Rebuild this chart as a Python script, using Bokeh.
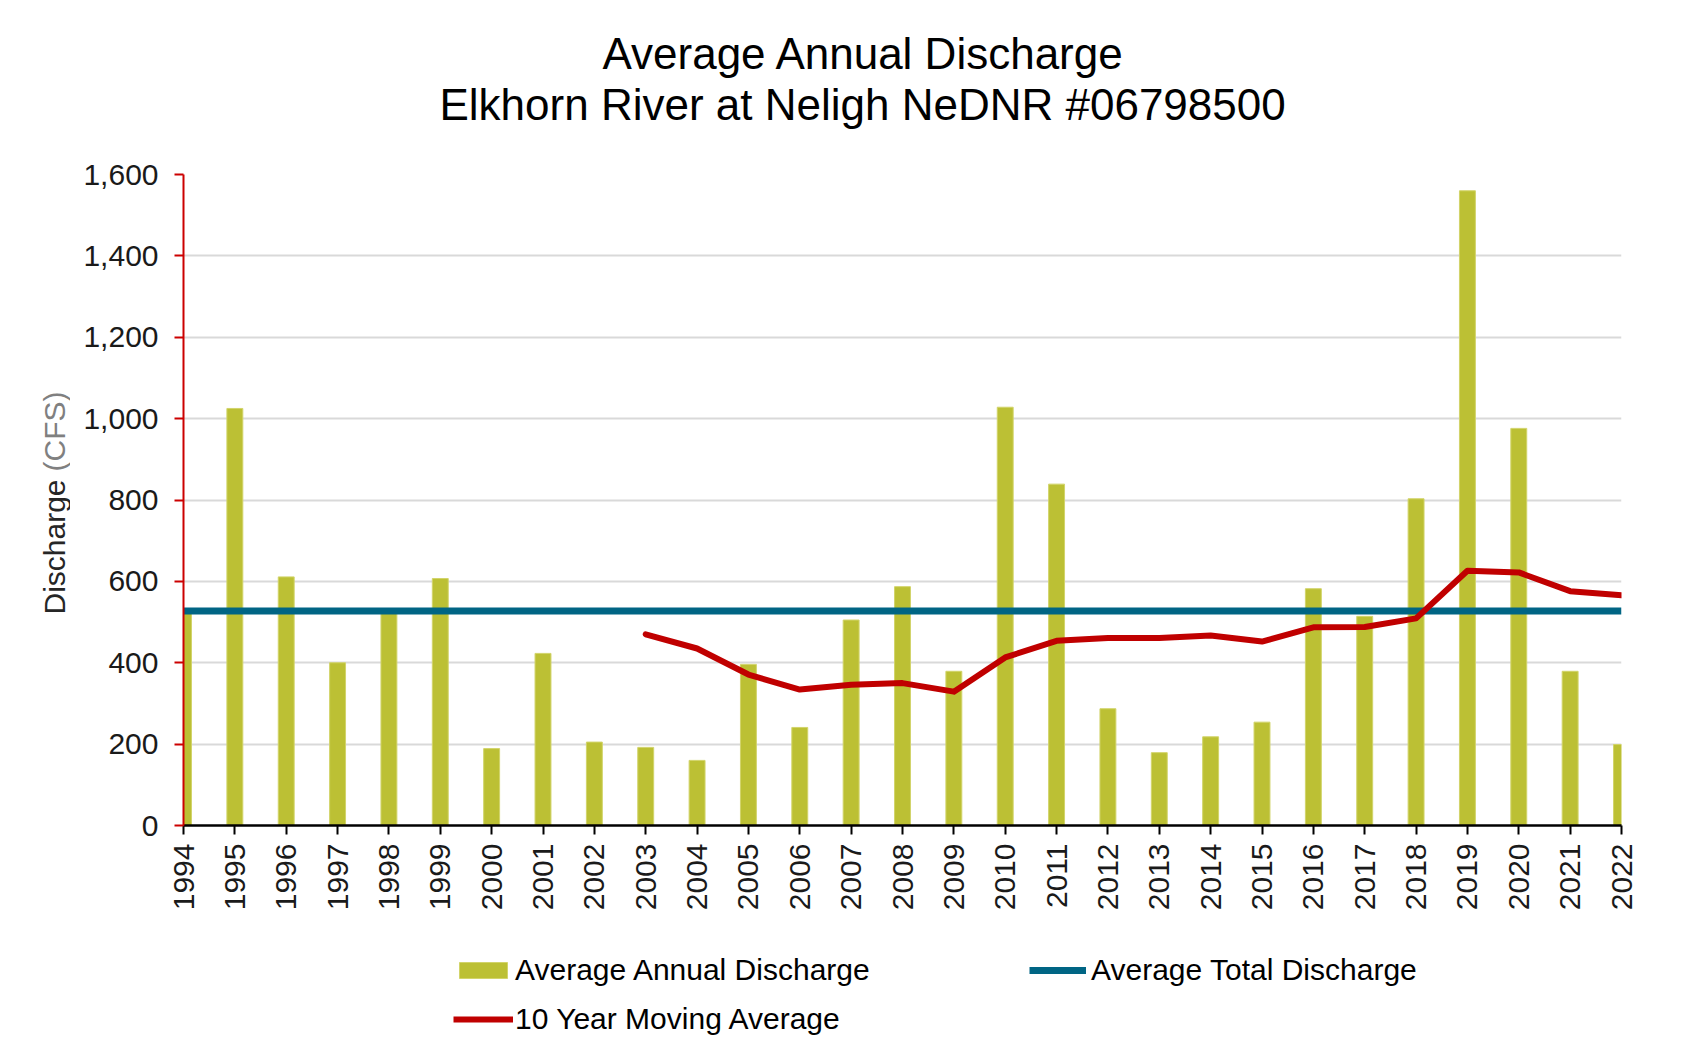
import numpy as np
from bokeh.plotting import figure
from bokeh.layouts import column, row
from bokeh.models import Legend, LegendItem, Title, Label, NumeralTickFormatter, FixedTicker, Range1d
from bokeh.embed import file_html
from bokeh.resources import INLINE

# ---------------- data ----------------
years = list(range(1994, 2023))
annual_discharge = [522, 1025, 611, 400, 528, 607, 189, 423, 205, 192,
                    160, 396, 241, 505, 587, 379, 1028, 839, 287, 179,
                    218, 254, 582, 514, 803, 1560, 976, 379, 199]
ma_years = list(range(2003, 2023))
moving_avg = [470, 435, 371, 334, 346, 350, 329, 413, 454, 461,
              461, 467, 452, 487, 488, 509, 626, 622, 576, 566]
avg_total = 527
y_ticks = [0, 200, 400, 600, 800, 1000, 1200, 1400, 1600]

title_lines = ["Average Annual Discharge", "Elkhorn River at Neligh NeDNR #06798500"]
y_label_parts = ["Discharge", "(CFS)"]
legend_labels = ["Average Annual Discharge", "Average Total Discharge", "10 Year Moving Average"]

# ---------------- styles ----------------
FONT = "Liberation Sans"
BAR_FILL, BAR_EDGE = "#BCC034", "#D2D46A"
AVG_COLOR, MA_COLOR = "#006584", "#C00000"

# ---------------- layout (page pixels) ----------------
PAGE_W, PAGE_H = 1700, 1040
LBL_W = 70                       # strip holding the y-axis label
MAIN_H = 915                     # main chart height
LEG_H = PAGE_H - MAIN_H          # legend strip height
FRAME_L, FRAME_T, FRAME_R, FRAME_B = 183, 174, 1621, 825

# ---------- y label strip (its frame is aligned with the main frame) ----------
ylab = figure(width=LBL_W, height=MAIN_H, output_backend="svg", toolbar_location=None,
              x_range=Range1d(0, LBL_W), y_range=Range1d(FRAME_B, FRAME_T),
              x_axis_type=None, y_axis_type=None,
              min_border_left=0, min_border_right=0,
              min_border_top=FRAME_T, min_border_bottom=MAIN_H - FRAME_B)
ylab.outline_line_color = None
ylab.grid.visible = False
ylab.add_layout(Label(x=54, y=614, text=y_label_parts[0], angle=np.pi / 2,
                      text_align="left", text_baseline="middle",
                      text_font=FONT, text_font_size="30px", text_color="#262626"))
ylab.add_layout(Label(x=54, y=471, text=y_label_parts[1], angle=np.pi / 2,
                      text_align="left", text_baseline="middle",
                      text_font=FONT, text_font_size="30px", text_color="#808080"))

# ---------- main chart ----------
W = PAGE_W - LBL_W
p = figure(width=W, height=MAIN_H, output_backend="svg", toolbar_location=None,
           x_range=Range1d(years[0], years[-1]), y_range=Range1d(y_ticks[0], y_ticks[-1]),
           min_border_left=FRAME_L - LBL_W, min_border_right=PAGE_W - FRAME_R,
           min_border_top=FRAME_T, min_border_bottom=MAIN_H - FRAME_B)
p.title.visible = False
p.outline_line_color = None

bars = p.vbar(x=years, top=annual_discharge, bottom=0, width=0.31,
              fill_color=BAR_FILL, line_color=BAR_EDGE, line_width=1)
avg_line = p.line([years[0], years[-1]], [avg_total, avg_total],
                  line_color=AVG_COLOR, line_width=7)
ma_line = p.line(ma_years, moving_avg, line_color=MA_COLOR, line_width=6,
                 line_join="round", line_cap="round")

p.xgrid.visible = False
p.ygrid.grid_line_color = "#D9D9D9"
p.ygrid.grid_line_width = 2
p.ygrid.ticker = FixedTicker(ticks=y_ticks)

p.yaxis.ticker = FixedTicker(ticks=y_ticks)
p.yaxis.formatter = NumeralTickFormatter(format="0,0")
p.yaxis.axis_line_color = "#CC0000"
p.yaxis.axis_line_width = 2
p.yaxis.major_tick_line_color = "#CC0000"
p.yaxis.major_tick_line_width = 2
p.yaxis.major_tick_out = 9
p.yaxis.major_tick_in = 0
p.yaxis.minor_tick_line_color = None
p.yaxis.major_label_standoff = 16
p.yaxis.major_label_text_font = FONT
p.yaxis.major_label_text_font_size = "30px"
p.yaxis.major_label_text_color = "#1a1a1a"

p.xaxis.ticker = FixedTicker(ticks=years)
p.xaxis.axis_line_color = "#000000"
p.xaxis.axis_line_width = 2.5
p.xaxis.major_tick_line_color = "#000000"
p.xaxis.major_tick_line_width = 2
p.xaxis.major_tick_out = 9
p.xaxis.major_tick_in = 0
p.xaxis.minor_tick_line_color = None
p.xaxis.major_label_orientation = np.pi / 2
p.xaxis.major_label_standoff = 9
p.xaxis.major_label_text_font = FONT
p.xaxis.major_label_text_font_size = "30px"
p.xaxis.major_label_text_color = "#1a1a1a"

# title: spacer nearest the frame, then line 2, then line 1
spacer = Title(text=" ", standoff=22, text_font=FONT, text_font_size="20px")
t2 = Title(text=title_lines[1], align="left", offset=256, standoff=0,
           text_font=FONT, text_font_size="44px", text_font_style="normal",
           text_color="#000000")
t1 = Title(text=title_lines[0], align="left", offset=419, standoff=0,
           text_font=FONT, text_font_size="44px", text_font_style="normal",
           text_color="#000000")
p.add_layout(spacer, "above")
p.add_layout(t2, "above")
p.add_layout(t1, "above")

# ---------- legend strip ----------
# same series drawn again, but outside the strip's visible range, so only the legend shows
lf = figure(width=PAGE_W, height=LEG_H, output_backend="svg", toolbar_location=None,
            x_range=Range1d(0, 1), y_range=Range1d(0, 1),
            x_axis_type=None, y_axis_type=None,
            min_border_left=0, min_border_right=0, min_border_top=0, min_border_bottom=0)
lf.outline_line_color = None
lf.grid.visible = False
lg_bars = lf.vbar(x=years, top=annual_discharge, bottom=0, width=0.31,
                  fill_color=BAR_FILL, line_color=BAR_EDGE, line_width=1)
lg_avg = lf.line([years[0], years[-1]], [avg_total, avg_total], line_color=AVG_COLOR, line_width=7)
lg_ma = lf.line(ma_years, moving_avg, line_color=MA_COLOR, line_width=6)

common = dict(border_line_color=None, background_fill_alpha=0, padding=0, margin=0,
              spacing=0, label_height=49, glyph_height=20,
              label_text_font=FONT, label_text_font_size="30px", label_text_color="#000000")
row1_top = 970 - MAIN_H - 24.5          # top of first legend row inside strip
legA = Legend(items=[LegendItem(label=legend_labels[0], renderers=[lg_bars]),
                     LegendItem(label=legend_labels[2], renderers=[lg_ma])],
              orientation="vertical", glyph_width=60, label_standoff=2,
              location=(453, LEG_H - row1_top - 98), **common)
legB = Legend(items=[LegendItem(label=legend_labels[1], renderers=[lg_avg])],
              orientation="vertical", glyph_width=57, label_standoff=5,
              location=(1029, LEG_H - row1_top - 49), **common)
lf.add_layout(legA)
lf.add_layout(legB)

layout = column(row(ylab, p), lf)
open("out.html", "w").write(file_html(layout, INLINE))
